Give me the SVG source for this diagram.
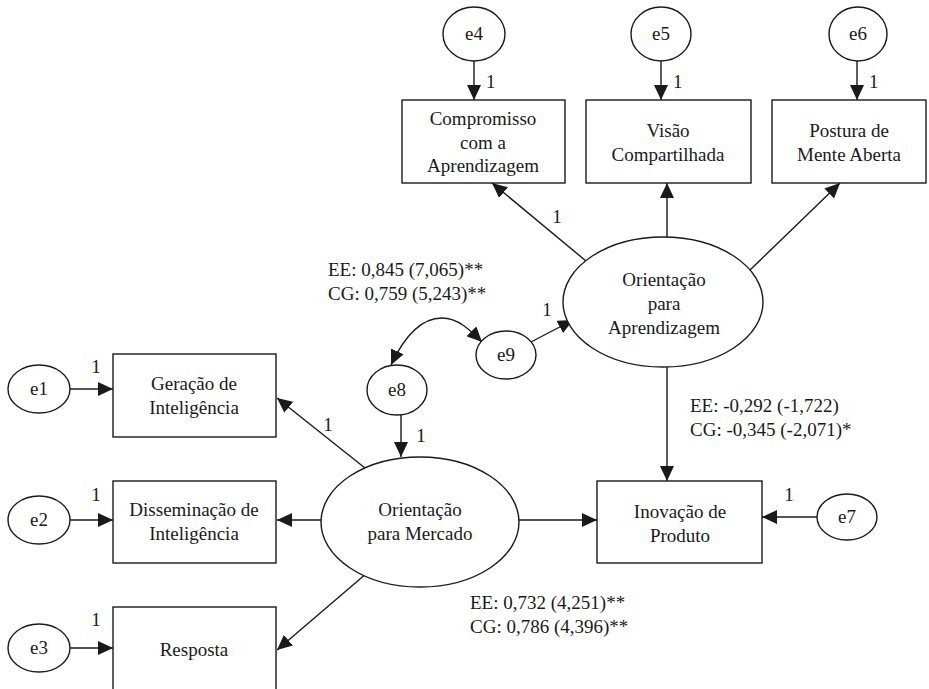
<svg xmlns="http://www.w3.org/2000/svg" width="929" height="689" viewBox="0 0 929 689" font-family="'Liberation Serif', 'Times New Roman', 'DejaVu Serif', serif" font-size="19">
<style>
text{font-family:'Liberation Serif','Times New Roman','DejaVu Serif',serif;font-size:19px;fill:#1a1a1a}
.c{text-anchor:middle}
.n{fill:#fff;stroke:#1a1a1a;stroke-width:1.4}
.l{fill:none;stroke:#1a1a1a;stroke-width:1.4}
</style>
<defs>
<marker id="a" markerUnits="userSpaceOnUse" markerWidth="16" markerHeight="14" refX="15" refY="7" orient="auto-start-reverse">
<path d="M0,0 L15,7 L0,14 z" fill="#1a1a1a"/>
</marker>
</defs>
<rect width="929" height="689" fill="#fff"/>
<g id="connectors">
<line class="l" x1="474" y1="61" x2="474" y2="100" marker-end="url(#a)"/>
<line class="l" x1="661" y1="61" x2="661" y2="100" marker-end="url(#a)"/>
<line class="l" x1="857" y1="61" x2="857" y2="100" marker-end="url(#a)"/>
<line class="l" x1="586" y1="261" x2="492" y2="183" marker-end="url(#a)"/>
<line class="l" x1="667" y1="237" x2="667" y2="183" marker-end="url(#a)"/>
<line class="l" x1="750" y1="270" x2="840" y2="183" marker-end="url(#a)"/>
<line class="l" x1="531" y1="342" x2="573" y2="320" marker-end="url(#a)"/>
<path class="l" d="M391,365 C405,335 422,318 442,318 C458,318 470,330 482,342" marker-start="url(#a)" marker-end="url(#a)"/>
<line class="l" x1="401" y1="415" x2="401" y2="457" marker-end="url(#a)"/>
<line class="l" x1="365" y1="468" x2="277" y2="398" marker-end="url(#a)"/>
<line class="l" x1="321" y1="520" x2="277" y2="520" marker-end="url(#a)"/>
<line class="l" x1="367" y1="573" x2="277" y2="650" marker-end="url(#a)"/>
<line class="l" x1="519" y1="520" x2="597" y2="520" marker-end="url(#a)"/>
<line class="l" x1="667" y1="367" x2="667" y2="481" marker-end="url(#a)"/>
<line class="l" x1="817" y1="517" x2="762" y2="517" marker-end="url(#a)"/>
<line class="l" x1="70" y1="389" x2="113" y2="389" marker-end="url(#a)"/>
<line class="l" x1="70" y1="520" x2="113" y2="520" marker-end="url(#a)"/>
<line class="l" x1="70" y1="648" x2="113" y2="648" marker-end="url(#a)"/>
</g>
<g id="labels">
<text x="486" y="88">1</text>
<text x="673" y="88">1</text>
<text x="869" y="88">1</text>
<text class="c" x="557" y="223">1</text>
<text class="c" x="547" y="316">1</text>
<text class="c" x="421" y="442">1</text>
<text class="c" x="328" y="431">1</text>
<text class="c" x="789" y="501">1</text>
<text class="c" x="96" y="373">1</text>
<text class="c" x="96" y="501">1</text>
<text class="c" x="96" y="626">1</text>
<text x="328" y="276">EE: 0,845 (7,065)**</text>
<text x="328" y="300">CG: 0,759 (5,243)**</text>
<text x="690" y="412">EE: -0,292 (-1,722)</text>
<text x="690" y="436">CG: -0,345 (-2,071)*</text>
<text x="470" y="609">EE: 0,732 (4,251)**</text>
<text x="470" y="633">CG: 0,786 (4,396)**</text>
</g>
<g id="e4"><ellipse class="n" cx="474" cy="34" rx="31" ry="27"/><text class="c" x="474" y="40">e4</text></g>
<g id="e5"><ellipse class="n" cx="661" cy="34" rx="30" ry="27"/><text class="c" x="661" y="40">e5</text></g>
<g id="e6"><ellipse class="n" cx="858" cy="34" rx="29" ry="27"/><text class="c" x="858" y="40">e6</text></g>
<g id="compromisso"><rect class="n" x="402" y="100" width="163" height="83"/><text class="c" x="483" y="125">Compromisso</text><text class="c" x="483" y="149">com a</text><text class="c" x="483" y="172">Aprendizagem</text></g>
<g id="visao"><rect class="n" x="586" y="100" width="165" height="83"/><text class="c" x="668" y="137">Visão</text><text class="c" x="668" y="161">Compartilhada</text></g>
<g id="postura"><rect class="n" x="772" y="100" width="154" height="83"/><text class="c" x="849" y="137">Postura de</text><text class="c" x="849" y="161">Mente Aberta</text></g>
<g id="oa"><ellipse class="n" cx="663" cy="302" rx="100" ry="65"/><text class="c" x="664" y="286">Orientação</text><text class="c" x="664" y="310">para</text><text class="c" x="664" y="334">Aprendizagem</text></g>
<g id="e9"><ellipse class="n" cx="506" cy="355" rx="30" ry="24"/><text class="c" x="506" y="361">e9</text></g>
<g id="e8"><ellipse class="n" cx="397" cy="390" rx="30" ry="25"/><text class="c" x="397" y="396">e8</text></g>
<g id="om"><ellipse class="n" cx="420" cy="522" rx="99" ry="65"/><text class="c" x="420" y="516">Orientação</text><text class="c" x="420" y="540">para Mercado</text></g>
<g id="inovacao"><rect class="n" x="597" y="481" width="165" height="82"/><text class="c" x="680" y="518">Inovação de</text><text class="c" x="680" y="542">Produto</text></g>
<g id="e7"><ellipse class="n" cx="847" cy="517" rx="30" ry="23"/><text class="c" x="847" y="523">e7</text></g>
<g id="geracao"><rect class="n" x="113" y="354" width="163" height="83"/><text class="c" x="194" y="390">Geração de</text><text class="c" x="194" y="414">Inteligência</text></g>
<g id="disseminacao"><rect class="n" x="113" y="481" width="163" height="82"/><text class="c" x="194" y="516">Disseminação de</text><text class="c" x="194" y="540">Inteligência</text></g>
<g id="resposta"><rect class="n" x="113" y="607" width="163" height="100"/><text class="c" x="194" y="656">Resposta</text></g>
<g id="e1"><ellipse class="n" cx="39" cy="389" rx="31" ry="24"/><text class="c" x="39" y="395">e1</text></g>
<g id="e2"><ellipse class="n" cx="39" cy="520" rx="31" ry="24"/><text class="c" x="39" y="526">e2</text></g>
<g id="e3"><ellipse class="n" cx="39" cy="648" rx="31" ry="24"/><text class="c" x="39" y="654">e3</text></g>
</svg>
